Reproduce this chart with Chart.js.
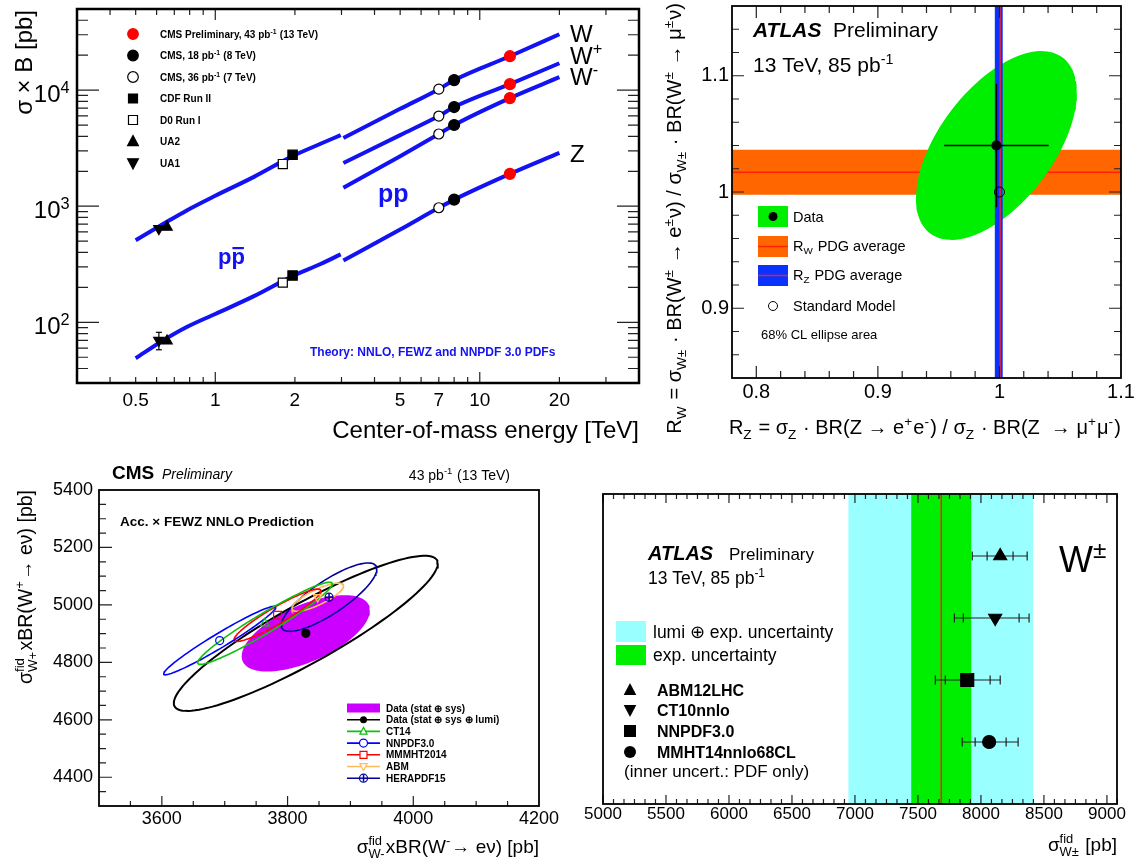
<!DOCTYPE html>
<html>
<head>
<meta charset="utf-8">
<script src="https://cdn.jsdelivr.net/npm/chart.js@4.4.1/dist/chart.umd.min.js"></script>
<style>
  html, body { margin: 0; padding: 0; background: #fff; }
  #wrap { position: relative; width: 1140px; height: 866px; overflow: hidden; }
  canvas { position: absolute; }
</style>
</head>
<body>
<div id="wrap">
  <canvas id="c1" width="650" height="445" style="left:0;top:0"></canvas>
  <canvas id="c2" width="510" height="445" style="left:630px;top:0"></canvas>
  <canvas id="c3" width="575" height="421" style="left:0;top:445px"></canvas>
  <canvas id="c4" width="560" height="421" style="left:580px;top:445px"></canvas>
</div>
<script>
const FF = '"Liberation Sans", Arial, Helvetica, sans-serif';

// ---- sigma x B vs sqrt(s): theory curves (pb) ----
const ppbarE = [0.5, 0.63, 0.78, 1.0, 1.4, 1.96, 2.5, 2.98];
const ppbarW = [510, 695, 920, 1230, 1790, 2700, 3450, 4100];
const ppbarZ = [49, 69, 91, 118, 168, 250, 318, 385];
const ppE = [3.05, 5, 7, 8, 13, 20];
const ppW = [3870, 6900, 10200, 12200, 19600, 30300];
const ppWp = [2360, 4100, 5980, 7150, 11260, 17050];
const ppWm = [1440, 2700, 4190, 5010, 8540, 12930];
const ppZ = [340, 630, 970, 1140, 1900, 2880];

// measurements: LHC [W, W+, W-, Z], Tevatron / SppS [W, Z]
const cms13 = [19600, 11260, 8540, 1900];
const cms8 = [12200, 7150, 5010, 1140];
const cms7 = [10200, 5980, 4190, 970];
const cdfRun2 = [2770, 253];
const d0Run1 = [2310, 220];
const ua2 = [660, 69];
const ua1 = [641, 70];
const ua1ZErr = [58, 82];
const measE = [13, 8, 7, 1.96, 1.8, 0.657, 0.612];
const energyTicks = [0.5, 1, 2, 5, 7, 10, 20];
const sigmaTicks = [100, 1000, 10000];

// ---- R_W vs R_Z ----
const rzRange = [0.78, 1.1];
const rwRange = [0.84, 1.16];
const rzTicks = [0.8, 0.9, 1.0, 1.1];
const rwTicks = [0.9, 1.0, 1.1];
const rData = [0.9975, 1.040];
const rErr = [0.043, 0.053];
const rEllipse = [0.0662, 0.0812, 0.56];   // sigma_Z, sigma_W, correlation
const rSM = [1.0, 1.0];
const rwPDG = [0.9977, 1.017, 1.0364];
const rzPDG = [0.9962, 1.0006, 1.0027];

// ---- CMS W+ vs W- fiducial ----
const wmRange = [3500, 4200];
const wpRange = [4300, 5400];
const wmTicks = [3600, 3800, 4000, 4200];
const wpTicks = [4400, 4600, 4800, 5000, 5200, 5400];
const cmsData = [3829, 4901];
const cmsSys = [102, 133, 0.6];
const cmsLumi = [210, 270, 0.9];
const pdfNames = ['CT14', 'NNPDF3.0', 'MMMHT2014', 'ABM', 'HERAPDF15'];
const pdfWm = [3764, 3692, 3784, 3848, 3866];
const pdfWp = [4936, 4876, 4964, 5027, 5027];
const pdfSWm = [107, 89, 69, 41, 76];
const pdfSWp = [143, 119, 91, 49, 119];
const pdfRho = [0.96, 0.97, 0.93, 0.8, 0.82];
const pdfColors = ['#10c010', '#0000ff', '#ff0000', '#ffbb55', '#000099'];

// ---- ATLAS W+- fiducial ----
const wTicks = [5000, 5500, 6000, 6500, 7000, 7500, 8000, 8500, 9000];
const wMeas = 7685;
const wExp = [7447, 7923];
const wLumi = [6948, 8414];
const predNames = ['ABM12LHC', 'CT10nnlo', 'NNPDF3.0', 'MMHT14nnlo68CL'];
const predVal = [8153, 8113, 7891, 8065];
const predLo = [7931, 7789, 7638, 7851];
const predHi = [8367, 8382, 8153, 8295];
const pdfOnlyLo = [8049, 7860, 7717, 7954];
const pdfOnlyHi = [8255, 8303, 8073, 8200];
const predRow = [4, 3, 2, 1];

// ---------- helpers ----------
function fnt(size, bold, italic) {
  return (italic ? 'italic ' : '') + (bold ? 'bold ' : '') + size + 'px ' + FF;
}

// text runs: plain strings, {t, b, i} for restyled text, {sup, sub} for scripts
function rich(ctx, runs, x, y, size, opt) {
  opt = opt || {};
  const small = size * 0.68;
  const items = runs.map(r => {
    if (typeof r === 'string') r = {t: r};
    const b = r.b !== undefined ? r.b : opt.bold;
    const it = r.i !== undefined ? r.i : opt.italic;
    let w;
    if (r.t !== undefined) {
      ctx.font = fnt(size, b, it);
      w = ctx.measureText(r.t).width;
    } else {
      ctx.font = fnt(small, b, it);
      w = Math.max(r.sup ? ctx.measureText(r.sup).width : 0, r.sub ? ctx.measureText(r.sub).width : 0) + size * 0.06;
    }
    return {r, b, it, w};
  });
  const total = items.reduce((s, o) => s + o.w, 0);
  let cx = opt.align === 'right' ? x - total : opt.align === 'center' ? x - total / 2 : x;
  ctx.save();
  ctx.fillStyle = opt.color || '#000';
  ctx.textAlign = 'left';
  ctx.textBaseline = 'alphabetic';
  for (const o of items) {
    if (o.r.t !== undefined) {
      ctx.font = fnt(size, o.b, o.it);
      ctx.fillText(o.r.t, cx, y);
    } else {
      ctx.font = fnt(small, o.b, o.it);
      if (o.r.sup) ctx.fillText(o.r.sup, cx, y - size * 0.4);
      if (o.r.sub) ctx.fillText(o.r.sub, cx, y + size * 0.24);
    }
    cx += o.w;
  }
  ctx.restore();
  return total;
}

function richUp(ctx, runs, x, y, size, opt) {
  ctx.save();
  ctx.translate(x, y);
  ctx.rotate(-Math.PI / 2);
  rich(ctx, runs, 0, 0, size, opt);
  ctx.restore();
}

function mark(ctx, shape, x, y, r, fill, stroke, lw) {
  ctx.save();
  ctx.beginPath();
  if (shape === 'circle') ctx.arc(x, y, r, 0, Math.PI * 2);
  else if (shape === 'square') ctx.rect(x - r, y - r, 2 * r, 2 * r);
  else if (shape === 'up') { ctx.moveTo(x, y - r); ctx.lineTo(x + r * 0.9, y + r * 0.7); ctx.lineTo(x - r * 0.9, y + r * 0.7); ctx.closePath(); }
  else if (shape === 'down') { ctx.moveTo(x, y + r); ctx.lineTo(x + r * 0.9, y - r * 0.7); ctx.lineTo(x - r * 0.9, y - r * 0.7); ctx.closePath(); }
  if (fill) { ctx.fillStyle = fill; ctx.fill(); }
  if (stroke) { ctx.strokeStyle = stroke; ctx.lineWidth = lw || 1; ctx.stroke(); }
  ctx.restore();
}

function hline(ctx, x1, x2, y, color, lw) {
  ctx.save();
  ctx.strokeStyle = color; ctx.lineWidth = lw;
  ctx.beginPath(); ctx.moveTo(x1, y); ctx.lineTo(x2, y); ctx.stroke();
  ctx.restore();
}

function logSteps(lo, hi) {
  const out = [];
  for (let e = Math.floor(Math.log10(lo)); e <= Math.ceil(Math.log10(hi)); e++) {
    for (let k = 1; k < 10; k++) {
      const v = k * Math.pow(10, e);
      if (v > lo * 1.001 && v < hi * 0.999) out.push([v, k === 1]);
    }
  }
  return out;
}

// tick marks drawn inward from the frame
function innerTicks(chart, xt, yt, s) {
  const {ctx, chartArea: a, scales: {x, y}} = chart;
  ctx.save();
  ctx.strokeStyle = '#222';
  ctx.lineWidth = s.tw || 1.2;
  ctx.beginPath();
  for (const [v, major] of xt) {
    const p = x.getPixelForValue(v), l = major ? s.xMaj : s.xMin;
    if (s.bottom) { ctx.moveTo(p, a.bottom); ctx.lineTo(p, a.bottom - l); }
    if (s.top) { ctx.moveTo(p, a.top); ctx.lineTo(p, a.top + l); }
  }
  for (const [v, major] of yt) {
    const p = y.getPixelForValue(v), l = major ? s.yMaj : s.yMin;
    if (s.left) { ctx.moveTo(a.left, p); ctx.lineTo(a.left + l, p); }
    if (s.right) { ctx.moveTo(a.right, p); ctx.lineTo(a.right - l, p); }
  }
  ctx.stroke();
  ctx.strokeStyle = '#000';
  ctx.lineWidth = s.frame;
  ctx.strokeRect(a.left, a.top, a.right - a.left, a.bottom - a.top);
  ctx.restore();
}

function ellipsePts(cx, cy, sx, sy, rho) {
  const k = Math.sqrt(1 - rho * rho), out = [];
  for (let i = 0; i <= 120; i++) {
    const t = i / 120 * 2 * Math.PI;
    out.push({x: cx + sx * Math.cos(t), y: cy + sy * (rho * Math.cos(t) + k * Math.sin(t))});
  }
  return out;
}

const xy = (xs, ys) => xs.map((x, i) => ({x, y: ys[i]}));
const rect = (x0, x1, y0, y1) => [{x: x0, y: y0}, {x: x1, y: y0}, {x: x1, y: y1}, {x: x0, y: y1}, {x: x0, y: y0}];

function lineDs(data, color, width, order, extra) {
  return Object.assign({data, showLine: true, borderColor: color, borderWidth: width, pointRadius: 0, fill: false, order}, extra || {});
}
function shapeDs(data, color, order) {
  return {data, showLine: true, fill: 'shape', backgroundColor: color, borderColor: 'rgba(0,0,0,0)', borderWidth: 0, pointRadius: 0, order};
}
function pointDs(data, style, r, fill, stroke, extra) {
  return Object.assign({data, showLine: false, pointStyle: style, pointRadius: r,
    pointBackgroundColor: fill, pointBorderColor: stroke, pointBorderWidth: 1.2, order: 0}, extra || {});
}

function xAxis(type, range, labels, size, pad, height, fmt) {
  return {
    type, min: range[0], max: range[1],
    afterBuildTicks: s => { s.ticks = labels.map(v => ({value: v})); },
    afterFit: s => { s.height = height; },
    grid: {display: false, drawTicks: false}, border: {display: false},
    ticks: {autoSkip: false, maxRotation: 0, minRotation: 0, padding: pad, color: '#000',
      font: {family: FF, size}, callback: fmt || (v => String(v))}
  };
}
function yAxis(type, range, labels, size, pad, width, fmt) {
  return {
    type, min: range[0], max: range[1],
    afterBuildTicks: s => { s.ticks = labels.map(v => ({value: v})); },
    afterFit: s => { s.width = width; s.paddingTop = 0; s.paddingBottom = 0; },
    grid: {display: false, drawTicks: false}, border: {display: false},
    ticks: {display: labels.length > 0, autoSkip: false, padding: pad, color: '#000',
      font: {family: FF, size}, callback: fmt || (v => String(v))}
  };
}
function baseOpts(top, right, scales) {
  return {
    responsive: false, animation: false, devicePixelRatio: 1, events: [],
    layout: {padding: {top, right, left: 0, bottom: 0}},
    plugins: {legend: {display: false}, tooltip: {enabled: false}},
    scales
  };
}
const oneDec = v => (Math.abs(v - 1) < 1e-9 ? '1' : v.toFixed(1));

// ================= sigma x B vs centre-of-mass energy =================
const blue = '#1212f2';
const curve = pts => lineDs(pts, blue, 4, 5, {cubicInterpolationMode: 'monotone', borderCapStyle: 'butt'});
const atE = (e, vals) => vals.map(v => ({x: e, y: v}));

new Chart(document.getElementById('c1'), {
  type: 'scatter',
  data: {datasets: [
    curve(xy(ppbarE, ppbarW)), curve(xy(ppbarE, ppbarZ)),
    curve(xy(ppE, ppW)), curve(xy(ppE, ppWp)), curve(xy(ppE, ppWm)), curve(xy(ppE, ppZ)),
    lineDs(atE(measE[6], ua1ZErr), '#000', 1.2, 1, {pointStyle: 'line', pointRadius: 3, pointBorderColor: '#000', pointBorderWidth: 1.2}),
    pointDs(atE(measE[0], cms13), 'circle', 5.5, '#ff0000', '#ff0000'),
    pointDs(atE(measE[1], cms8), 'circle', 5.5, '#000', '#000'),
    pointDs(atE(measE[2], cms7), 'circle', 5, '#fff', '#000'),
    pointDs(atE(measE[3], cdfRun2), 'rect', 6.6, '#000', '#000'),
    pointDs(atE(measE[4], d0Run1), 'rect', 6.4, '#fff', '#000'),
    pointDs(atE(measE[5], ua2), 'triangle', 6, '#000', '#000'),
    pointDs(atE(measE[6], ua1), 'triangle', 6, '#000', '#000', {pointRotation: 180})
  ]},
  options: baseOpts(9, 11, {
    x: xAxis('logarithmic', [0.3, 40], energyTicks, 19, 6, 62),
    y: yAxis('logarithmic', [30, 50000], [], 20, 0, 77)
  }),
  plugins: [{
    id: 'sigmaFrame',
    afterDraw(chart) {
      const {ctx, chartArea: a, scales: {y}} = chart;
      innerTicks(chart, logSteps(0.3, 40), logSteps(30, 50000),
        {xMaj: 11, xMin: 6, yMaj: 22, yMin: 11, top: true, bottom: true, left: true, right: true, frame: 2.5});
      for (const v of sigmaTicks) {
        rich(ctx, ['10', {sup: String(Math.round(Math.log10(v)))}], a.left - 6, y.getPixelForValue(v) + 12, 24, {align: 'right'});
      }
      richUp(ctx, ['σ × B [pb]'], 32, 10, 24, {align: 'right'});
      rich(ctx, ['Center-of-mass energy [TeV]'], a.right, 438, 24, {align: 'right'});

      // legend
      const leg = [
        ['circle', '#ff0000', '#ff0000', ['CMS Preliminary, 43 pb', {sup: '-1'}, ' (13 TeV)']],
        ['circle', '#000', '#000', ['CMS, 18 pb', {sup: '-1'}, ' (8 TeV)']],
        ['circle', '#fff', '#000', ['CMS, 36 pb', {sup: '-1'}, ' (7 TeV)']],
        ['square', '#000', '#000', ['CDF Run II']],
        ['square', '#fff', '#000', ['D0 Run I']],
        ['up', '#000', '#000', ['UA2']],
        ['down', '#000', '#000', ['UA1']]
      ];
      leg.forEach((e, i) => {
        const yy = 34 + i * 21.5;
        const r = e[0] === 'circle' ? 5.3 : e[0] === 'square' ? 4.5 : 6;
        mark(ctx, e[0], 133, yy, r, e[1], e[2], 1.2);
        rich(ctx, e[3], 160, yy + 3.6, 10, {bold: true});
      });

      rich(ctx, ['W'], 570, 42, 24);
      rich(ctx, ['W', {sup: '+'}], 570, 64, 24);
      rich(ctx, ['W', {sup: '-'}], 570, 85, 24);
      rich(ctx, ['Z'], 570, 162, 24);

      rich(ctx, ['pp'], 378, 202, 25, {bold: true, color: blue});
      ctx.save();
      ctx.font = fnt(22, true);
      const pw = ctx.measureText('p').width;
      ctx.fillStyle = blue;
      ctx.fillText('pp', 218, 264);
      ctx.fillRect(218 + pw + 1, 247, pw - 2, 2.2);
      ctx.restore();
      rich(ctx, ['Theory: NNLO, FEWZ and NNPDF 3.0 PDFs'], 310, 356, 12, {bold: true, color: blue});
    }
  }]
});

// ================= R_W vs R_Z =================
const green = '#00ee00';
const c2x = 630;
new Chart(document.getElementById('c2'), {
  type: 'scatter',
  data: {datasets: [
    pointDs([{x: rData[0], y: rData[1]}], 'circle', 4.5, '#000', '#000'),
    pointDs([{x: rSM[0], y: rSM[1]}], 'circle', 5, 'rgba(0,0,0,0)', '#000', {pointBorderWidth: 1}),
    lineDs([{x: rData[0] - rErr[0], y: rData[1]}, {x: rData[0] + rErr[0], y: rData[1]}], '#000', 1.5, 1),
    lineDs([{x: rData[0], y: rData[1] - rErr[1]}, {x: rData[0], y: rData[1] + rErr[1]}], '#000', 1.5, 1),
    lineDs([{x: rzPDG[1], y: rwRange[0]}, {x: rzPDG[1], y: rwRange[1]}], '#e0203a', 1.5, 2),
    shapeDs(rect(rzPDG[0], rzPDG[2], rwRange[0], rwRange[1]), '#0a32ff', 3),
    shapeDs(ellipsePts(rData[0], rData[1], rEllipse[0], rEllipse[1], rEllipse[2]), green, 4),
    lineDs([{x: rzRange[0], y: rwPDG[1]}, {x: rzRange[1], y: rwPDG[1]}], '#ff2200', 1.5, 5),
    shapeDs(rect(rzRange[0], rzRange[1], rwPDG[0], rwPDG[2]), '#ff6600', 6)
  ]},
  options: baseOpts(1, 19, {
    x: xAxis('linear', rzRange, rzTicks, 20, 2, 67, oneDec),
    y: yAxis('linear', rwRange, rwTicks, 20, 3, 102, oneDec)
  }),
  plugins: [{
    id: 'ratioFrame',
    afterDraw(chart) {
      const ctx = chart.ctx;
      const xt = [], yt = [];
      for (let i = 40; i <= 54; i++) xt.push([i * 0.02, i % 5 === 0]);
      for (let i = 43; i <= 57; i++) yt.push([i * 0.02, i % 5 === 0]);
      innerTicks(chart, xt, yt, {xMaj: 12, xMin: 7, yMaj: 12, yMin: 7, top: true, bottom: true, left: true, right: true, frame: 1.8});
      ctx.save();
      ctx.translate(-c2x, 0);
      rich(ctx, ['ATLAS'], 753, 37, 21, {bold: true, italic: true});
      rich(ctx, ['Preliminary'], 833, 37, 21);
      rich(ctx, ['13 TeV, 85 pb', {sup: '-1'}], 753, 72, 21);

      ctx.fillStyle = green; ctx.fillRect(758, 206, 30, 21);
      mark(ctx, 'circle', 773, 216.5, 4.5, '#000');
      ctx.fillStyle = '#ff6600'; ctx.fillRect(758, 236, 30, 21);
      hline(ctx, 758, 788, 246.5, '#ff2200', 1.5);
      ctx.fillStyle = '#0a32ff'; ctx.fillRect(758, 265, 30, 21);
      hline(ctx, 758, 788, 275.5, '#e0203a', 1.5);
      mark(ctx, 'circle', 773, 306, 4.5, null, '#000', 1);
      rich(ctx, ['Data'], 793, 222, 14.5);
      rich(ctx, ['R', {sub: 'W'}, ' PDG average'], 793, 251, 14.5);
      rich(ctx, ['R', {sub: 'Z'}, ' PDG average'], 793, 280, 14.5);
      rich(ctx, ['Standard Model'], 793, 311, 14.5);
      rich(ctx, ['68% CL ellipse area'], 761, 339, 13);

      richUp(ctx, ['R', {sub: 'W'}, ' = σ', {sub: 'W±'}, ' · BR(W', {sup: '±'}, ' → e', {sup: '±'}, 'ν) / σ', {sub: 'W±'},
        ' · BR(W', {sup: '±'}, ' → μ', {sup: '±'}, 'ν)'], 681, 3, 20, {align: 'right'});
      rich(ctx, ['R', {sub: 'Z'}, ' = σ', {sub: 'Z'}, ' · BR(Z → e', {sup: '+'}, 'e', {sup: '-'}, ') / σ', {sub: 'Z'},
        ' · BR(Z  → μ', {sup: '+'}, 'μ', {sup: '-'}, ')'], 1121, 434, 20, {align: 'right'});
      ctx.restore();
    }
  }]
});

// ================= CMS W+ vs W- =================
const c3y = 445;
const pdfDs = pdfNames.map((n, i) =>
  lineDs(ellipsePts(pdfWm[i], pdfWp[i], pdfSWm[i], pdfSWp[i], pdfRho[i]), pdfColors[i], 1.6, 1));
const c = (i) => [{x: pdfWm[i], y: pdfWp[i]}];
new Chart(document.getElementById('c3'), {
  type: 'scatter',
  data: {datasets: [
    pointDs([{x: cmsData[0], y: cmsData[1]}], 'circle', 4, '#000', '#000'),
    pointDs(c(0), 'triangle', 5, 'rgba(0,0,0,0)', pdfColors[0]),
    pointDs(c(1), 'circle', 4, 'rgba(0,0,0,0)', pdfColors[1]),
    pointDs(c(2), 'rect', 5.5, 'rgba(0,0,0,0)', pdfColors[2]),
    pointDs(c(3), 'triangle', 5, 'rgba(0,0,0,0)', pdfColors[3], {pointRotation: 180}),
    pointDs(c(4), 'cross', 4, 'rgba(0,0,0,0)', pdfColors[4], {pointBorderWidth: 1.5}),
    pointDs(c(4), 'circle', 4, 'rgba(0,0,0,0)', pdfColors[4]),
    ...pdfDs,
    lineDs(ellipsePts(cmsData[0], cmsData[1], cmsLumi[0], cmsLumi[1], cmsLumi[2]), '#000', 2, 2),
    shapeDs(ellipsePts(cmsData[0], cmsData[1], cmsSys[0], cmsSys[1], cmsSys[2]), '#cc00ff', 3)
  ]},
  options: baseOpts(45, 36, {
    x: xAxis('linear', wmRange, wmTicks, 18, 2, 60),
    y: yAxis('linear', wpRange, wpTicks, 18, 6, 99)
  }),
  plugins: [{
    id: 'cmsFrame',
    afterDraw(chart) {
      const ctx = chart.ctx;
      const xt = [], yt = [];
      for (let v = 3550; v < 4200; v += 50) xt.push([v, v % 200 === 0]);
      for (let v = 4350; v < 5400; v += 50) yt.push([v, v % 200 === 0]);
      innerTicks(chart, xt, yt, {xMaj: 10, xMin: 5, yMaj: 13, yMin: 7, bottom: true, left: true, frame: 1.8});
      ctx.save();
      ctx.translate(0, -c3y);
      rich(ctx, ['CMS'], 112, 479, 19, {bold: true});
      rich(ctx, ['Preliminary'], 162, 479, 14, {italic: true});
      rich(ctx, ['43 pb', {sup: '-1'}, ' (13 TeV)'], 510, 480, 14, {align: 'right'});
      rich(ctx, ['Acc. × FEWZ NNLO Prediction'], 120, 526, 13.5, {bold: true});

      const leg = ['Data (stat ⊕ sys)', 'Data (stat ⊕ sys ⊕ lumi)'].concat(pdfNames);
      leg.forEach((t, i) => {
        const yy = 708 + i * 11.7;
        if (i === 0) {
          ctx.fillStyle = '#cc00ff';
          ctx.fillRect(347, yy - 4.5, 33, 9);
        } else {
          const col = i === 1 ? '#000' : pdfColors[i - 2];
          hline(ctx, 347, 380, yy, col, 1.6);
          const shapes = ['circle', 'up', 'circle', 'square', 'down', 'circle'];
          const sh = shapes[i - 1];
          if (i === 1) mark(ctx, 'circle', 363.5, yy, 3.5, '#000');
          else mark(ctx, sh, 363.5, yy, sh === 'square' ? 3.5 : 4, '#fff', col, 1.2);
          if (i === 6) { hline(ctx, 360, 367, yy, col, 1.5); ctx.fillStyle = col; ctx.fillRect(362.8, yy - 3.5, 1.5, 7); }
        }
        rich(ctx, [t], 386, yy + 3.6, 10, {bold: true});
      });

      richUp(ctx, ['σ', {sup: 'fid', sub: 'W+'}, 'xBR(W', {sup: '+'}, '→ eν) [pb]'], 32, 490, 19.5, {align: 'right'});
      rich(ctx, ['σ', {sup: 'fid', sub: 'W-'}, 'xBR(W', {sup: '-'}, '→ eν) [pb]'], 539, 853, 19, {align: 'right'});
      ctx.restore();
    }
  }]
});

// ================= ATLAS W+- fiducial =================
const c4x = 580, c4y = 445;
const cyan = '#99ffff';
const errDs = predNames.map((n, i) => lineDs(
  [predLo[i], pdfOnlyLo[i], pdfOnlyHi[i], predHi[i]].map(v => ({x: v, y: predRow[i]})), '#222', 1.2, 1,
  {pointStyle: 'line', pointRotation: 90, pointRadius: 4.5, pointBorderColor: '#222', pointBorderWidth: 1.2}));
new Chart(document.getElementById('c4'), {
  type: 'scatter',
  data: {datasets: [
    pointDs([{x: predVal[0], y: predRow[0]}], 'triangle', 7.5, '#000', '#000'),
    pointDs([{x: predVal[1], y: predRow[1]}], 'triangle', 7.5, '#000', '#000', {pointRotation: 180}),
    pointDs([{x: predVal[2], y: predRow[2]}], 'rect', 9.2, '#000', '#000'),
    pointDs([{x: predVal[3], y: predRow[3]}], 'circle', 6.5, '#000', '#000'),
    ...errDs,
    lineDs([{x: wMeas, y: 0}, {x: wMeas, y: 5}], '#e03010', 1.6, 2),
    shapeDs(rect(wExp[0], wExp[1], 0, 5), green, 3),
    shapeDs(rect(wLumi[0], wLumi[1], 0, 5), cyan, 4)
  ]},
  options: baseOpts(49, 23, {
    x: xAxis('linear', [5000, 9080], wTicks, 17, 0, 62),
    y: yAxis('linear', [0, 5], [], 17, 0, 23)
  }),
  plugins: [{
    id: 'atlasFrame',
    afterDraw(chart) {
      const ctx = chart.ctx;
      const xt = [];
      for (let j = 0; j <= 48; j++) xt.push([5000 + j * 500 / 6, j % 6 === 0]);
      xt.push([9000 + 500 / 6, false]);
      innerTicks(chart, xt, [], {xMaj: 9, xMin: 5, top: true, bottom: true, frame: 1.8});
      ctx.save();
      ctx.translate(-c4x, -c4y);
      rich(ctx, ['ATLAS'], 648, 560, 20, {bold: true, italic: true});
      rich(ctx, ['Preliminary'], 729, 560, 17);
      rich(ctx, ['13 TeV, 85 pb', {sup: '-1'}], 648, 584, 17.5);
      ctx.fillStyle = cyan; ctx.fillRect(616, 621, 30, 21);
      ctx.fillStyle = green; ctx.fillRect(616, 645, 30, 20);
      rich(ctx, ['lumi ⊕ exp. uncertainty'], 653, 638, 17.5);
      rich(ctx, ['exp. uncertainty'], 653, 661, 17.5);
      const shapes = ['up', 'down', 'square', 'circle'];
      const ys = [690, 710, 731, 752];
      shapes.forEach((s, i) => {
        mark(ctx, s, 630, ys[i], s === 'square' ? 6 : s === 'circle' ? 6 : 7, '#000');
        rich(ctx, [predNames[i]], 657, ys[i] + 5.5, 16, {bold: true});
      });
      rich(ctx, ['(inner uncert.: PDF only)'], 624, 777, 17);
      rich(ctx, ['W', {sup: '±'}], 1059, 572, 36);
      rich(ctx, ['σ', {sup: 'fid', sub: 'W±'}, ' [pb]'], 1117, 851, 19, {align: 'right'});
      ctx.restore();
    }
  }]
});
</script>
</body>
</html>
